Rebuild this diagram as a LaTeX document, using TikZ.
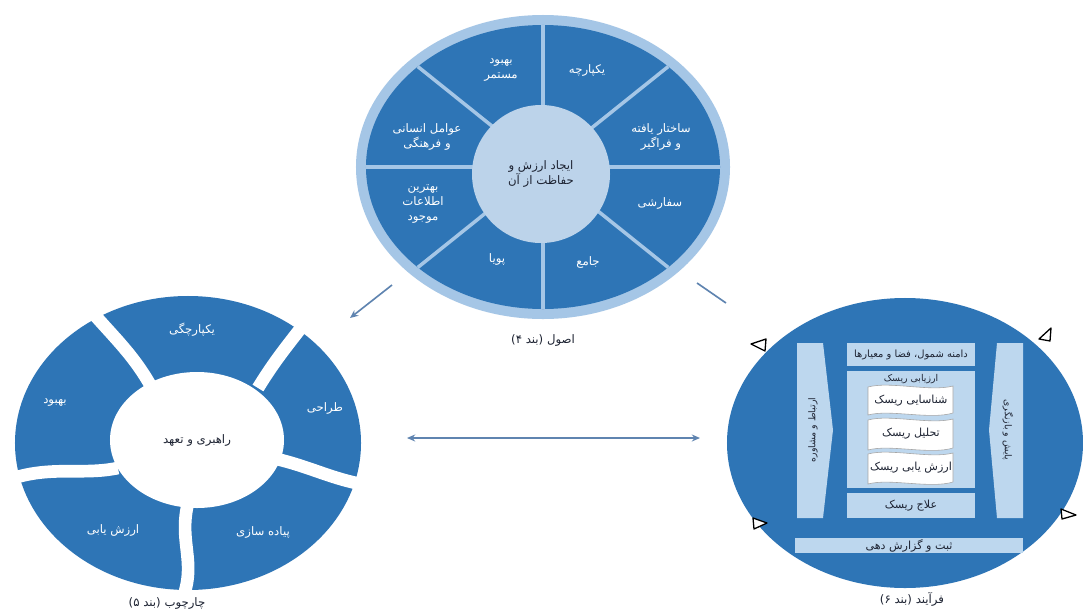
\documentclass[tikz,border=0pt]{standalone}
\usepackage{fontspec}
\usetikzlibrary{arrows.meta,shapes.geometric}
\TeXXeTstate=1
\newfontfamily\fafont[Script=Arabic]{DejaVu Sans}
\newcommand\rtl[1]{\beginR#1\endR}
\definecolor{dblue}{HTML}{2E75B6}
\definecolor{ringlight}{HTML}{A5C6E6}
\definecolor{innerlight}{HTML}{BCD3EA}
\definecolor{boxlight}{HTML}{BDD7EE}
\definecolor{conncol}{HTML}{5F84B0}
\definecolor{txtdark}{HTML}{1E2433}
\begin{document}
\begin{tikzpicture}[x=0.03cm,y=-0.03cm,
  every node/.style={font=\fafont\fontsize{9.5}{12}\selectfont, inner sep=0pt},
  big/.style={font=\fafont\fontsize{10}{13}\selectfont},
  small/.style={font=\fafont\fontsize{8}{10}\selectfont},
  wtext/.style={text=white, align=center},
  dtext/.style={text=txtdark, align=center},
  conn/.style={draw=conncol, line width=1.4pt},
  gapline/.style={draw=white, line width=0.38cm},
  lbox/.style={fill=boxlight},
  docbox/.style={fill=white, draw=gray!70, line width=0.5pt},
  tri/.style={draw=black, fill=white, line width=1.1pt, line join=round}]
\useasboundingbox (0,0) rectangle (1083,611);
\fill[white] (0,0) rectangle (1083,611);

% ---------------- Principles ----------------
\node[ellipse, fill=ringlight, minimum width=11.22cm, minimum height=9.12cm] (P) at (543,167) {};
\node[ellipse, fill=dblue, minimum width=10.62cm, minimum height=8.52cm] (Pd) at (543,167) {};
\foreach \a in {0,45,...,315}
  \draw[ringlight, line width=3pt] (543,167) -- ++({177*cos(\a)},{-142*sin(\a)});
\node[circle, fill=innerlight, minimum size=4.14cm, dtext, big] (Pc) at (541,174)
  {\rtl{ایجاد ارزش و}\\\rtl{حفاظت از آن}};
\node[wtext, big] (p1) at (587,70) {\rtl{یکپارچه}};
\node[wtext, big] (p2) at (661,137) {\rtl{ساختار یافته}\\\rtl{و فراگیر}};
\node[wtext, big] (p3) at (660,203) {\rtl{سفارشی}};
\node[wtext, big] (p4) at (588,262) {\rtl{جامع}};
\node[wtext, big] (p5) at (497,259) {\rtl{پویا}};
\node[wtext, big] (p6) at (423,204) {\rtl{بهترین}\\\rtl{اطلاعات}\\\rtl{موجود}};
\node[wtext, big] (p7) at (427,137) {\rtl{عوامل انسانی}\\\rtl{و فرهنگی}};
\node[wtext, big] (p8) at (501,70) {\rtl{بهبود}\\\rtl{مستمر}};
\node[dtext, big] (Plab) at (543,340) {\rtl{اصول (بند ۴)}};

% ---------------- Framework ----------------
\node[ellipse, fill=dblue, minimum width=10.38cm, minimum height=8.82cm] (F) at (188,443) {};
\draw[gapline] (152,388) .. controls (132,352) and (112,336) .. (78,296);
\draw[gapline] (258,388) .. controls (280,352) and (296,336) .. (322,300);
\draw[gapline] (272,458) .. controls (310,466) and (332,480) .. (372,486);
\draw[gapline] (190,496) .. controls (176,540) and (198,560) .. (182,600);
\draw[gapline] (118,468) .. controls (80,476) and (48,464) .. (2,482);
\node[ellipse, fill=white, minimum width=5.22cm, minimum height=4.08cm, dtext, big] (Fc) at (197,440) {\rtl{راهبری و تعهد}};
\node[wtext, big] (f1) at (192,330) {\rtl{یکپارچگی}};
\node[wtext, big] (f2) at (325,408) {\rtl{طراحی}};
\node[wtext, big] (f3) at (263,532) {\rtl{پیاده سازی}};
\node[wtext, big] (f4) at (113,530) {\rtl{ارزش یابی}};
\node[wtext, big] (f5) at (55,402) {\rtl{بهبود}};
\node[dtext, big] (Flab) at (167,603) {\rtl{چارچوب (بند ۵)}};

% ---------------- Process ----------------
\node[ellipse, fill=dblue, minimum width=10.68cm, minimum height=8.7cm] (R) at (905,443) {};
\fill[lbox] (797,343) -- (823,343) -- (833,430) -- (823,518) -- (797,518) -- cycle;
\fill[lbox] (1023,343) -- (997,343) -- (989,430) -- (997,518) -- (1023,518) -- cycle;
\node[dtext, small, rotate=90] (r1) at (813,430) {\rtl{ارتباط و مشاوره}};
\node[dtext, small, rotate=-90] (r2) at (1008,430) {\rtl{پایش و بازنگری}};
\fill[lbox] (847,343) rectangle (975,366);
\node[dtext, font=\fafont\fontsize{8.5}{10}\selectfont] (r3) at (911,354.5) {\rtl{دامنه شمول، فضا و معیارها}};
\fill[lbox] (847,371) rectangle (975,488);
\node[dtext, small] (r4) at (911,379) {\rtl{ارزیابی ریسک}};
\foreach \t/\b in {386/415, 419/450, 453/484}{
  \draw[docbox] (868,\t+1) .. controls (890,\t-5) and (930,\t+6) .. (953,\t)
     -- (953,\b-2) .. controls (930,\b+5) and (890,\b-6) .. (868,\b) -- cycle;
}
\node[dtext] (r5) at (911,401) {\rtl{شناسایی ریسک}};
\node[dtext] (r6) at (911,434) {\rtl{تحلیل ریسک}};
\node[dtext] (r7) at (911,468) {\rtl{ارزش یابی ریسک}};
\fill[lbox] (847,493) rectangle (975,518);
\node[dtext] (r8) at (911,506) {\rtl{علاج ریسک}};
\fill[lbox] (795,538) rectangle (1023,553);
\node[dtext] (r9) at (909,545.5) {\rtl{ثبت و گزارش دهی}};
\node[dtext, big] (Rlab) at (912,599) {\rtl{فرآیند (بند ۶)}};
% arrowheads on the process ring
\draw[tri] (751,344) -- (766,339) -- (765,351) -- cycle;
\draw[tri] (1039,339) -- (1051,328) -- (1050,341) -- cycle;
\draw[tri] (767,523) -- (753,518) -- (754,529) -- cycle;
\draw[tri] (1076,515) -- (1061,509) -- (1062,519) -- cycle;

% ---------------- Connectors ----------------
\coordinate (a1) at (392,285);
\coordinate (a2) at (350,318);
\coordinate (b1) at (697,283);
\coordinate (b2) at (726,303);
\coordinate (d1) at (407,438);
\coordinate (d2) at (700,438);
\draw[conn, -{Stealth[length=7pt,width=6pt]}] (a1) -- (a2);
\draw[conn] (b1) -- (b2);
\draw[conn, {Stealth[length=7pt,width=6pt]}-{Stealth[length=7pt,width=6pt]}] (d1) -- (d2);
\end{tikzpicture}
\end{document}
